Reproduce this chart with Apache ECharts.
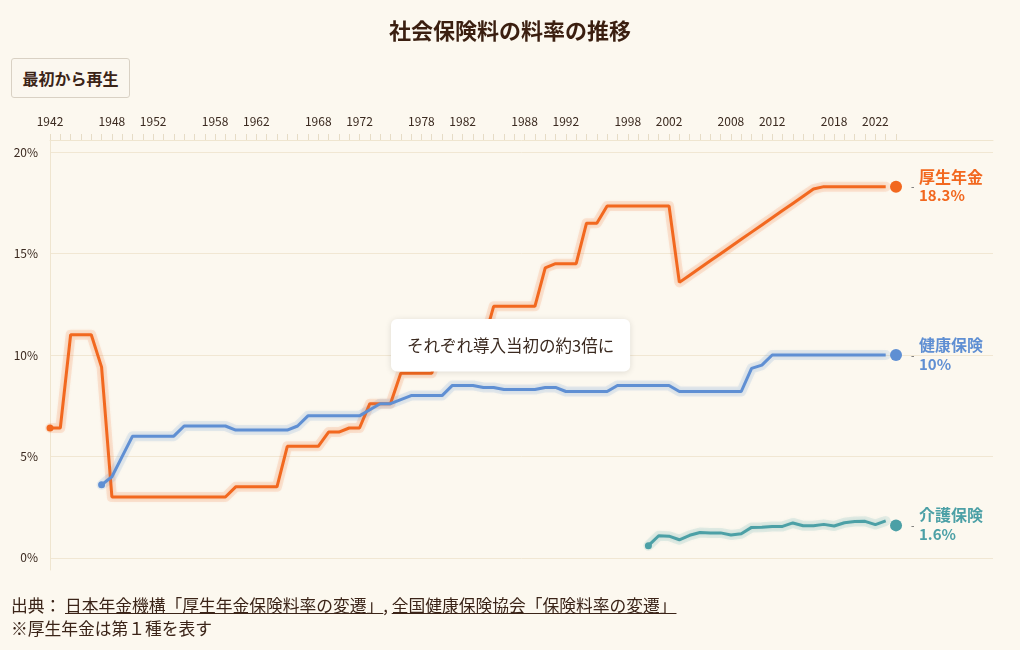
<!DOCTYPE html>
<html lang="ja">
<head>
<meta charset="utf-8">
<script src="https://cdn.jsdelivr.net/npm/echarts@6/dist/echarts.min.js"></script>
<style>
  html, body { margin: 0; padding: 0; background: #fcf8ef; }
  body { width: 1020px; height: 650px; position: relative; overflow: hidden;
         font-family: "Noto Sans CJK JP", "Noto Sans", sans-serif; color: #3b2418; }
  #chart { position: absolute; left: 0; top: 0; width: 1020px; height: 650px; }
  #replay { position: absolute; left: 11px; top: 58px; width: 119px; height: 40px;
            border: 1px solid #d9d1c4; border-radius: 3px; background: #fbf7ef;
            font-family: "Noto Sans CJK JP", sans-serif; font-weight: bold; font-size: 16px;
            color: #3b2418; padding: 0; cursor: pointer; }
  #footer { position: absolute; left: 11px; top: 594px; font-size: 16.75px; line-height: 23px; color: #3b2418; }
  #footer a { color: #3b2418; text-decoration: underline; }
</style>
</head>
<body>
<div id="chart"></div>
<button id="replay">最初から再生</button>
<div id="footer">
  <div>出典： <a>日本年金機構「厚生年金保険料率の変遷」</a>, <a>全国健康保険協会「保険料率の変遷」</a></div>
  <div>※厚生年金は第１種を表す</div>
</div>
<script>
// ---- data ----
const titleText = '社会保険料の料率の推移';
const noteText = 'それぞれ導入当初の約3倍に';
const seriesNames = ['厚生年金', '健康保険', '介護保険'];
const seriesColors = ['#f2681f', '#5f8fd3', '#4ca0a6'];
const tickLabelYears = [1942, 1948, 1952, 1958, 1962, 1968, 1972, 1978, 1982, 1988, 1992, 1998, 2002, 2008, 2012, 2018, 2022];
const yTicks = [0, 5, 10, 15, 20];

// 厚生年金 1942–2023
const pensionStart = 1942;
const pension = [
  6.4, 6.4, 11.0, 11.0, 11.0, 9.4,
  3.0, 3.0, 3.0, 3.0, 3.0, 3.0, 3.0, 3.0, 3.0, 3.0, 3.0, 3.0,
  3.5, 3.5, 3.5, 3.5, 3.5,
  5.5, 5.5, 5.5, 5.5,
  6.2, 6.2, 6.4, 6.4,
  7.6, 7.6, 7.6,
  9.1, 9.1, 9.1, 9.1,
  10.6, 10.6, 10.6, 10.6, 10.6,
  12.4, 12.4, 12.4, 12.4, 12.4,
  14.3, 14.5, 14.5, 14.5,
  16.5, 16.5,
  17.35, 17.35, 17.35, 17.35, 17.35, 17.35, 17.35,
  13.58, 13.934, 14.288, 14.642, 14.996, 15.35, 15.704, 16.058, 16.412, 16.766, 17.12, 17.474, 17.828, 18.182,
  18.3, 18.3, 18.3, 18.3, 18.3, 18.3, 18.3
];
// 健康保険 1947–2023
const healthStart = 1947;
const health = [
  3.6, 4.0, 5.0,
  6.0, 6.0, 6.0, 6.0, 6.0,
  6.5, 6.5, 6.5, 6.5, 6.5,
  6.3, 6.3, 6.3, 6.3, 6.3, 6.3,
  6.5,
  7.0, 7.0, 7.0, 7.0, 7.0, 7.0,
  7.3, 7.6, 7.6, 7.8,
  8.0, 8.0, 8.0, 8.0,
  8.5, 8.5, 8.5,
  8.4, 8.4,
  8.3, 8.3, 8.3, 8.3,
  8.4, 8.4,
  8.2, 8.2, 8.2, 8.2, 8.2,
  8.5, 8.5, 8.5, 8.5, 8.5, 8.5,
  8.2, 8.2, 8.2, 8.2, 8.2, 8.2, 8.2,
  9.34, 9.5,
  10.0, 10.0, 10.0, 10.0, 10.0, 10.0, 10.0, 10.0, 10.0, 10.0, 10.0, 10.0
];
// 介護保険 2000–2023
const careStart = 2000;
const care = [0.60, 1.09, 1.07, 0.89, 1.11, 1.25, 1.23, 1.23, 1.13, 1.19, 1.50, 1.51, 1.55, 1.55, 1.72, 1.58, 1.58, 1.65, 1.57, 1.73, 1.79, 1.80, 1.64, 1.82];
// latest (2024)
const latestYear = 2024;
const latest = [18.3, 10, 1.6];
const latestLabels = ['18.3%', '10%', '1.6%'];

// ---- build ----
const pairs = (start, arr) => arr.map((v, i) => [start + i, v]);
const lineData = [pairs(pensionStart, pension), pairs(healthStart, health), pairs(careStart, care)];
const allYears = [];
for (let y = 1942; y <= latestYear; y++) allYears.push(y);

const rgba = (hex, a) => {
  const n = parseInt(hex.slice(1), 16);
  return `rgba(${(n >> 16) & 255},${(n >> 8) & 255},${n & 255},${a})`;
};

const series = [];
lineData.forEach((d, i) => {
  // soft halo under the line
  series.push({
    type: 'line', data: d, showSymbol: false, z: 2, silent: true,
    lineStyle: { color: rgba(seriesColors[i], 0.13), width: 10, cap: 'round', join: 'round' },
    emphasis: { disabled: true }
  });
  series.push({
    type: 'line', name: seriesNames[i], data: d, showSymbol: false, z: 3,
    lineStyle: { color: seriesColors[i], width: 3, shadowColor: rgba(seriesColors[i], 0.3), shadowBlur: 5 },
    itemStyle: { color: seriesColors[i] }, emphasis: { disabled: true }
  });
  series.push({
    type: 'scatter', data: [d[0]], symbolSize: 7, z: 4,
    itemStyle: { color: seriesColors[i], opacity: 1 }, emphasis: { disabled: true }
  });
  series.push({
    type: 'scatter', data: [[latestYear, latest[i]]], symbolSize: 12, z: 4,
    itemStyle: { color: seriesColors[i], opacity: 1 }, emphasis: { disabled: true },
    label: { show: true, position: 'right', distance: 9, formatter: '-', color: '#555', fontSize: 10,
             opacity: 1, fontFamily: 'Noto Sans CJK JP' }
  });
  series.push({
    type: 'scatter', data: [[latestYear, latest[i]]], symbolSize: 0, z: 4, silent: true,
    itemStyle: { opacity: 1 },
    label: { show: true, position: 'right', distance: 23, opacity: 1, offset: [0, -1],
             formatter: '{n|' + seriesNames[i] + '}\n{v|' + latestLabels[i] + '}',
             rich: {
               n: { fontSize: 16, fontWeight: 'bold', color: seriesColors[i], lineHeight: 20, fontFamily: 'Noto Sans CJK JP' },
               v: { fontSize: 15, fontWeight: 'bold', color: seriesColors[i], lineHeight: 18, fontFamily: 'Noto Sans CJK JP' }
             } }
  });
});

const chart = echarts.init(document.getElementById('chart'), null, { renderer: 'canvas' });
chart.setOption({
  animation: false,
  backgroundColor: '#fcf8ef',
  textStyle: { fontFamily: 'Noto Sans CJK JP' },
  title: [
    { text: titleText, left: 'center', top: 15,
      textStyle: { fontSize: 22, fontWeight: 'bold', color: '#3b1f10', fontFamily: 'Noto Sans CJK JP' } },
    { text: noteText, left: 391, top: 319, padding: [18, 16],
      backgroundColor: '#ffffff', borderRadius: 6, shadowBlur: 6, shadowColor: 'rgba(0,0,0,0.12)', shadowOffsetY: 1,
      textStyle: { fontSize: 16.5, fontWeight: 'normal', color: '#3b2a20', fontFamily: 'Noto Sans CJK JP' } }
  ],
  grid: { left: 50, right: 27, top: 140, bottom: 80 },
  xAxis: {
    type: 'value', position: 'top', min: 1942, max: 2033.4,
    axisLine: { show: true, onZero: false, lineStyle: { color: '#efe5cf', width: 1 } },
    axisTick: { show: true, customValues: allYears, length: 6, lineStyle: { color: '#e6dcc6' } },
    axisLabel: { customValues: tickLabelYears, formatter: v => String(v), fontSize: 12, color: '#3b2a20', margin: 13 },
    splitLine: { show: false }
  },
  yAxis: {
    type: 'value', min: -0.6, max: 20.6,
    axisLine: { show: true, onZero: false, lineStyle: { color: '#efe5cf' } },
    axisTick: { show: false, customValues: yTicks },
    axisLabel: { customValues: yTicks, formatter: '{value}%', fontSize: 12, color: '#3b2a20', margin: 12 },
    splitLine: { show: true, lineStyle: { color: '#f1e7d3' } }
  },
  series: series
});
</script>
</body>
</html>
